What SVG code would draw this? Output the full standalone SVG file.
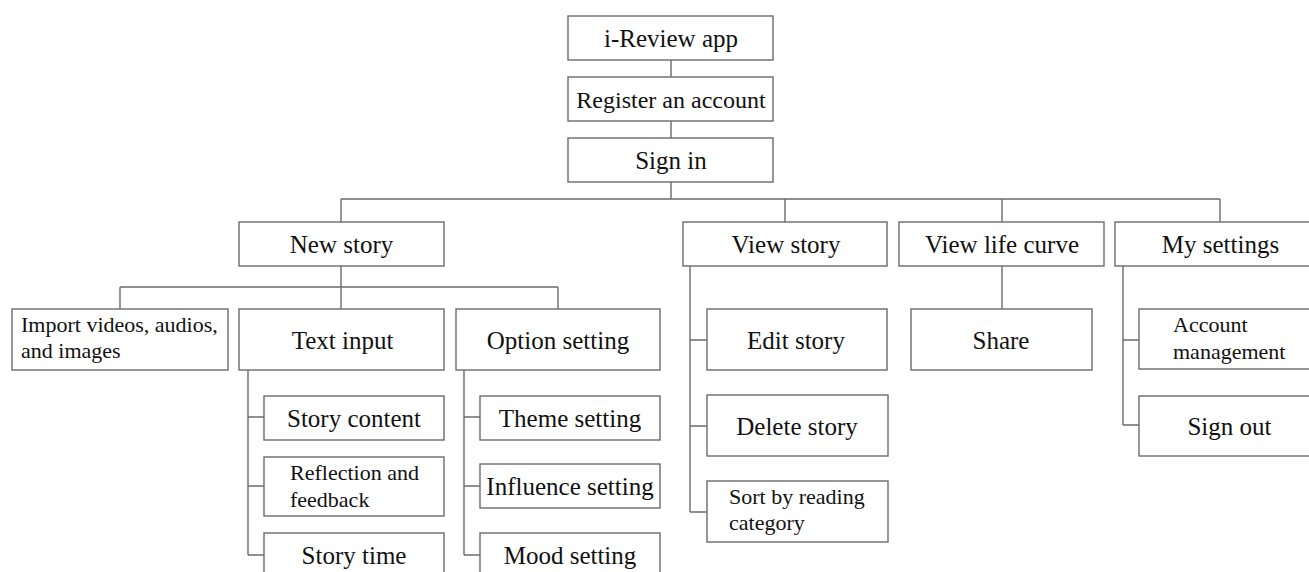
<svg xmlns="http://www.w3.org/2000/svg" width="1309" height="572" viewBox="0 0 1309 572">
<style>
.box{fill:#fff;stroke:#6b6b6b;stroke-width:1.4}
.t{font-family:"Liberation Serif","Times New Roman",serif;font-size:25px;fill:#111;text-anchor:middle}
.s{font-family:"Liberation Serif","Times New Roman",serif;font-size:22px;fill:#111}
.c{fill:none;stroke:#6b6b6b;stroke-width:1.4}
</style>
<rect width="1309" height="572" fill="#fff"/>
<g id="connectors" class="c">
<path d="M671 60V77M671 121V138M671 182V199M341 199H1220M341 199V222M785 199V222M1002 199V222M1220 199V222"/>
<path d="M341 266V309M120 287H558M120 287V309M558 287V309"/>
<path d="M248 370V555M248 417H264M248 486H264M248 555H264"/>
<path d="M464 370V555M464 417H480M464 486H480M464 555H480"/>
<path d="M690 266V512M690 340H707M690 426H707M690 512H707"/>
<path d="M1002 266V309"/>
<path d="M1123 266V425M1123 340H1139M1123 425H1139"/>
</g>
<g id="n-app"><rect class="box" x="568" y="16" width="205" height="44"/><text class="t" x="671" y="47">i-Review app</text></g>
<g id="n-register"><rect class="box" x="568" y="77" width="205" height="44"/><text class="t" x="671" y="108" style="font-size:24px">Register an account</text></g>
<g id="n-signin"><rect class="box" x="568" y="138" width="205" height="44"/><text class="t" x="671" y="169">Sign in</text></g>
<g id="n-newstory"><rect class="box" x="239" y="222" width="205" height="44"/><text class="t" x="341.5" y="253">New story</text></g>
<g id="n-viewstory"><rect class="box" x="683" y="222" width="204" height="44"/><text class="t" x="786" y="253">View story</text></g>
<g id="n-lifecurve"><rect class="box" x="899" y="222" width="205" height="44"/><text class="t" x="1002" y="253">View life curve</text></g>
<g id="n-mysettings"><rect class="box" x="1115" y="222" width="210" height="44"/><text class="t" x="1220.5" y="253">My settings</text></g>
<g id="n-import"><rect class="box" x="12" y="309" width="216" height="61"/><text class="s" x="21" y="331.5">Import videos, audios,</text><text class="s" x="21" y="358">and images</text></g>
<g id="n-textinput"><rect class="box" x="239" y="309" width="205" height="61"/><text class="t" x="342.5" y="348.5">Text input</text></g>
<g id="n-option"><rect class="box" x="456" y="309" width="204" height="61"/><text class="t" x="558" y="348.5">Option setting</text></g>
<g id="n-storycontent"><rect class="box" x="264" y="396" width="180" height="44"/><text class="t" x="354" y="427">Story content</text></g>
<g id="n-reflection"><rect class="box" x="264" y="457" width="180" height="59"/><text class="s" x="290" y="480">Reflection and</text><text class="s" x="290" y="506.5">feedback</text></g>
<g id="n-storytime"><rect class="box" x="264" y="533" width="180" height="44"/><text class="t" x="354" y="564">Story time</text></g>
<g id="n-theme"><rect class="box" x="480" y="396" width="180" height="44"/><text class="t" x="570" y="427">Theme setting</text></g>
<g id="n-influence"><rect class="box" x="480" y="464" width="180" height="44"/><text class="t" x="570" y="495">Influence setting</text></g>
<g id="n-mood"><rect class="box" x="480" y="533" width="180" height="44"/><text class="t" x="570" y="564">Mood setting</text></g>
<g id="n-edit"><rect class="box" x="707" y="309" width="180" height="61"/><text class="t" x="796" y="348.5">Edit story</text></g>
<g id="n-delete"><rect class="box" x="707" y="395" width="181" height="61"/><text class="t" x="797" y="434.5">Delete story</text></g>
<g id="n-sort"><rect class="box" x="707" y="481" width="181" height="61"/><text class="s" x="729" y="503.5">Sort by reading</text><text class="s" x="729" y="530">category</text></g>
<g id="n-share"><rect class="box" x="911" y="309" width="181" height="61"/><text class="t" x="1001" y="348.5">Share</text></g>
<g id="n-account"><rect class="box" x="1139" y="309" width="180" height="60"/><text class="s" x="1173" y="332">Account</text><text class="s" x="1173" y="359">management</text></g>
<g id="n-signout"><rect class="box" x="1139" y="396" width="180" height="60"/><text class="t" x="1229.5" y="434.5">Sign out</text></g>
</svg>
